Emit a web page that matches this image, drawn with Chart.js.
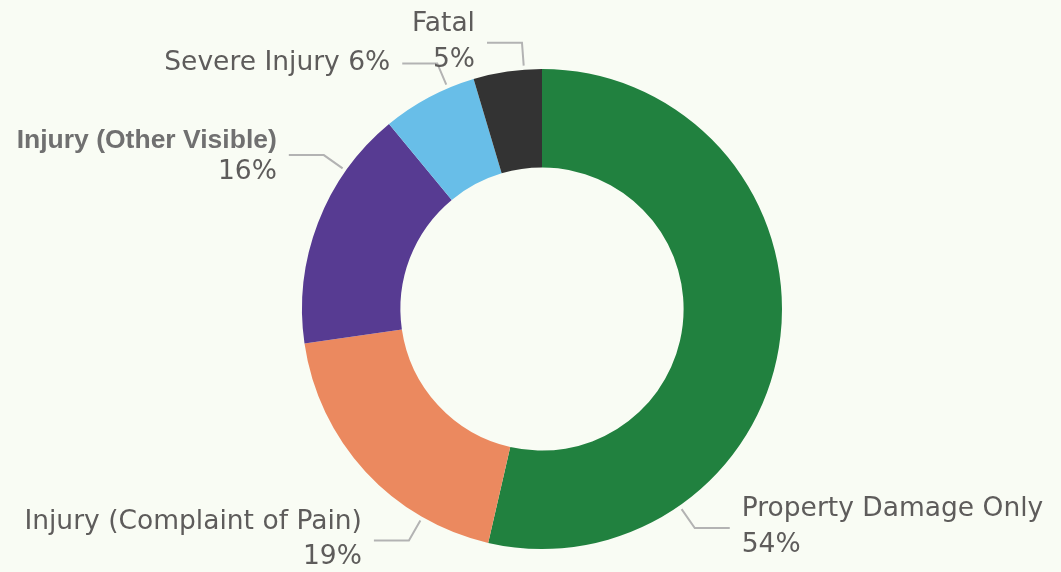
<!DOCTYPE html>
<html>
<head>
<meta charset="utf-8">
<script src="https://cdn.jsdelivr.net/npm/chart.js@4/dist/chart.umd.min.js"></script>
<style>
  html, body { margin: 0; padding: 0; background: #F9FCF4; }
  #wrap { width: 1061px; height: 572px; }
</style>
</head>
<body>
<div id="wrap"><canvas id="myChart"></canvas></div>
<script>
// Collision severity split
let categories = ['Property Damage Only', 'Injury (Complaint of Pain)', 'Injury (Other Visible)', 'Severe Injury', 'Fatal'];
let shares = [53.6, 19.1, 16.3, 6.4, 4.6];
let colors = ['#21813F', '#EB895F', '#573B92', '#68BEE8', '#333333'];

// label text layout (two lines or one)
let labelLines = [
  ['Property Damage Only', '{p}'],
  ['Injury (Complaint of Pain)', '{p}'],
  ['Injury (Other Visible)', '{p}'],
  ['Severe Injury {p}'],
  ['Fatal', '{p}']
];

const dinFont = '"DejaVu Sans", sans-serif';
const dinSize = '26.5px ';

/**
 * Draws the outside labels with their elbow leader lines
 */
const leaderLabels = {
  id: 'leaderLabels',
  afterDraw(chart, args, opts) {
    let ctx = chart.ctx;
    let meta = chart.getDatasetMeta(0);
    let total = shares.reduce((a, b) => a + b, 0);
    ctx.save();
    meta.data.forEach((arc, i) => {
      let a = (opts.angles[i] - 90) * Math.PI / 180;
      let r = arc.outerRadius;
      let sx = arc.x + Math.cos(a) * (r + 4), sy = arc.y + Math.sin(a) * (r + 4);
      let ex = arc.x + Math.cos(a) * (r + 27), ey = arc.y + Math.sin(a) * (r + 27);
      let dir = Math.cos(a) >= 0 ? 1 : -1;
      let hx = ex + dir * 35;
      ctx.strokeStyle = '#B3B3B3';
      ctx.lineWidth = 2;
      ctx.beginPath();
      ctx.moveTo(sx, sy);
      ctx.lineTo(ex, ey);
      ctx.lineTo(hx, ey);
      ctx.stroke();

      let pct = Math.round(shares[i] / total * 100) + '%';
      let lines = labelLines[i].map(s => s.replace('{p}', pct));
      let tx = hx + dir * 12;
      ctx.textAlign = dir > 0 ? 'left' : 'right';
      ctx.textBaseline = 'middle';
      if (lines.length == 1) {
        ctx.font = dinSize + dinFont;
        ctx.fillStyle = '#5E5C5B';
        ctx.fillText(lines[0], tx, ey);
      } else {
        let bold = opts.bold[i];
        ctx.font = bold ? 'bold 26.5px "Liberation Sans", Arial, sans-serif' : dinSize + dinFont;
        ctx.fillStyle = bold ? '#707070' : '#5E5C5B';
        ctx.fillText(lines[0], tx, ey - opts.up[i]);
        ctx.font = dinSize + dinFont;
        ctx.fillStyle = '#5E5C5B';
        ctx.fillText(lines[1], tx, ey + opts.down[i]);
      }
    });
    ctx.restore();
  }
};

let ctx = document.getElementById('myChart').getContext('2d');
window.myChart = new Chart(ctx, {
  type: 'doughnut',
  data: {
    labels: categories,
    datasets: [{
      data: shares,
      backgroundColor: colors,
      borderWidth: 0
    }]
  },
  options: {
    responsive: true,
    maintainAspectRatio: false,
    animation: false,
    cutout: '59%',
    layout: { padding: { top: 69, bottom: 23, left: 23, right: 0 } },
    plugins: {
      legend: { display: false },
      tooltip: { enabled: false },
      leaderLabels: {
        angles: [145.1, 209.9, 305.2, 336.9, 355.7],
        bold: [false, false, true, false, false],
        up: [19, 18, 14, 0, 19],
        down: [17, 17, 17, 0, 17]
      }
    }
  },
  plugins: [leaderLabels]
});
</script>
</body>
</html>
